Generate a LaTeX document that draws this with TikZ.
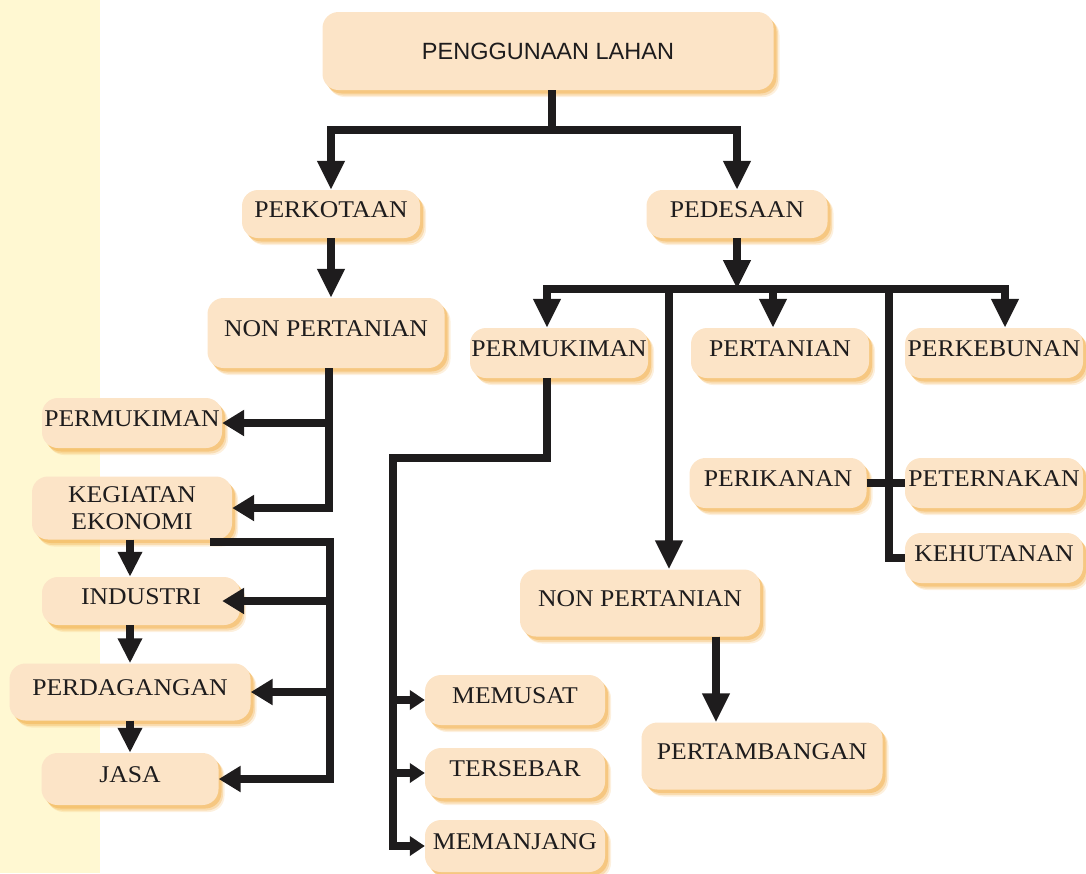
\documentclass[tikz,border=0pt]{standalone}
\usepackage{fontspec}
\setmainfont{Liberation Serif}[FakeStretch=1.07]
\newfontfamily\titlefont{Liberation Sans}
\usetikzlibrary{arrows.meta,shadows}
\definecolor{boxfill}{HTML}{FCE4C7}
\definecolor{boxshadow}{HTML}{F2AE48}
\definecolor{strip}{HTML}{FFF8D2}
\definecolor{ink}{HTML}{1E1C1D}
\begin{document}
\begin{tikzpicture}[x=1pt,y=-1pt,
  boxbase/.style={rounded corners=16pt, fill=boxfill,
    drop shadow={shadow xshift=6pt,shadow yshift=-7pt,fill=boxshadow,opacity=.18},
    drop shadow={shadow xshift=4.5pt,shadow yshift=-5.5pt,fill=boxshadow,opacity=.3},
    drop shadow={shadow xshift=3pt,shadow yshift=-3.5pt,fill=boxshadow,opacity=.45},
    font=\fontsize{24}{27}\selectfont, text=ink, inner sep=0pt, align=center},
  box/.style={boxbase, text height=17pt, text depth=11pt},
  line/.style={draw=ink, line width=8pt, line join=miter},
  arr/.style={line, -{Triangle[width=26pt,length=29pt]}},
  sarr/.style={line, -{Triangle[width=25pt,length=22pt]}},
  darr/.style={line, -{Triangle[width=23pt,length=25pt]}},
  tarr/.style={line, -{Triangle[width=19pt,length=15pt]}},
]
\useasboundingbox (0,0) rectangle (1086,873);
\fill[strip] (0,0) rectangle (100,873);

% nodes
\node[box, minimum width=451pt, minimum height=78pt, font=\titlefont\fontsize{23.5}{28}\selectfont, text height=17pt, text depth=0pt] (top) at (548,51) {PENGGUNAAN LAHAN};
\node[box, minimum width=178pt, minimum height=48pt] (perk) at (331,214) {PERKOTAAN};
\node[box, minimum width=181pt, minimum height=48pt] (ped) at (737,214) {PEDESAAN};
\node[box, minimum width=237pt, minimum height=70pt] (npL) at (326,333) {NON PERTANIAN};
\node[box, minimum width=178pt, minimum height=50pt] (permR) at (559,353) {PERMUKIMAN};
\node[box, minimum width=178pt, minimum height=50pt] (pert) at (780,353) {PERTANIAN};
\node[box, minimum width=178pt, minimum height=50pt] (kebun) at (994,353) {PERKEBUNAN};
\node[box, minimum width=177pt, minimum height=50pt] (ikan) at (778,483) {PERIKANAN};
\node[box, minimum width=178pt, minimum height=50pt] (ternak) at (994,483) {PETERNAKAN};
\node[box, minimum width=178pt, minimum height=50pt] (hutan) at (994,558) {KEHUTANAN};
\node[box, minimum width=240pt, minimum height=67pt] (npR) at (640,603) {NON PERTANIAN};
\node[box, minimum width=241pt, minimum height=67pt] (tambang) at (762,756) {PERTAMBANGAN};
\node[box, minimum width=180pt, minimum height=50pt] (memusat) at (515,700) {MEMUSAT};
\node[box, minimum width=180pt, minimum height=50pt] (tersebar) at (515,773) {TERSEBAR};
\node[box, minimum width=180pt, minimum height=52pt] (memanjang) at (515,846) {MEMANJANG};
\node[box, minimum width=180pt, minimum height=50pt] (permL) at (132,423) {PERMUKIMAN};
\node[boxbase, minimum width=200pt, minimum height=63pt] (keg) at (132,508) {KEGIATAN\\EKONOMI};
\node[box, minimum width=198pt, minimum height=48pt] (ind) at (141,601) {INDUSTRI};
\node[box, minimum width=241pt, minimum height=57pt] (dag) at (130,692) {PERDAGANGAN};
\node[box, minimum width=177pt, minimum height=52pt] (jasa) at (130,779) {JASA};

% top split
\coordinate (j0) at (552,130);
\draw[line] (top.south -| j0) -- (j0);
\draw[arr] (j0) -| (perk.north);
\draw[arr] (j0) -| (ped.north);

% perkotaan
\draw[arr] (perk.south) -- (perk.south |- npL.north);

% pedesaan bus
\coordinate (bus) at (737,289);
\coordinate (busL) at (547,289);
\coordinate (busR) at (1005,289);
\coordinate (b2) at (773,289);
\coordinate (b3) at (669,289);
\coordinate (b4) at (889,289);
\draw[arr] (ped.south) -- (bus);
\draw[line, line cap=rect] (busL) -- (busR);
\draw[arr] (busL) -- (busL |- permR.north);
\draw[arr] (b2) -- (b2 |- pert.north);
\draw[arr] (busR) -- (busR |- kebun.north);
\draw[arr] (b3) -- (b3 |- npR.north);
\draw[line] (b4) |- (hutan.west);
\draw[line] (ikan.east) -- (ternak.west);

% non pertanian (desa)
\coordinate (t1) at (716,0);
\draw[arr] (npR.south -| t1) -- (tambang.north -| t1);

% permukiman (desa)
\coordinate (p1) at (547,458);
\coordinate (p2) at (393,458);
\draw[tarr] (permR.south -| p1) -- (p1) -- (p2) |- (memanjang.west);
\draw[tarr] (p2 |- memusat.west) -- (memusat.west);
\draw[tarr] (p2 |- tersebar.west) -- (tersebar.west);

% perkotaan branch
\coordinate (l1) at (329,0);
\draw[sarr] (npL.south -| l1) |- (keg.east);
\draw[sarr] (l1 |- permL.east) -- (permL.east);

% kegiatan ekonomi branch
\coordinate (k1) at (210,542);
\coordinate (k2) at (330,542);
\draw[sarr] (k1) -- (k2) |- (jasa.east);
\draw[sarr] (k2 |- ind.east) -- ([xshift=-18pt]ind.east);
\draw[sarr] (k2 |- dag.east) -- (dag.east);

% chain
\coordinate (c1) at (130,0);
\draw[darr] (keg.south -| c1) -- (ind.north -| c1);
\draw[darr] (ind.south -| c1) -- (dag.north -| c1);
\draw[darr] (dag.south -| c1) -- (jasa.north -| c1);
\end{tikzpicture}
\end{document}
